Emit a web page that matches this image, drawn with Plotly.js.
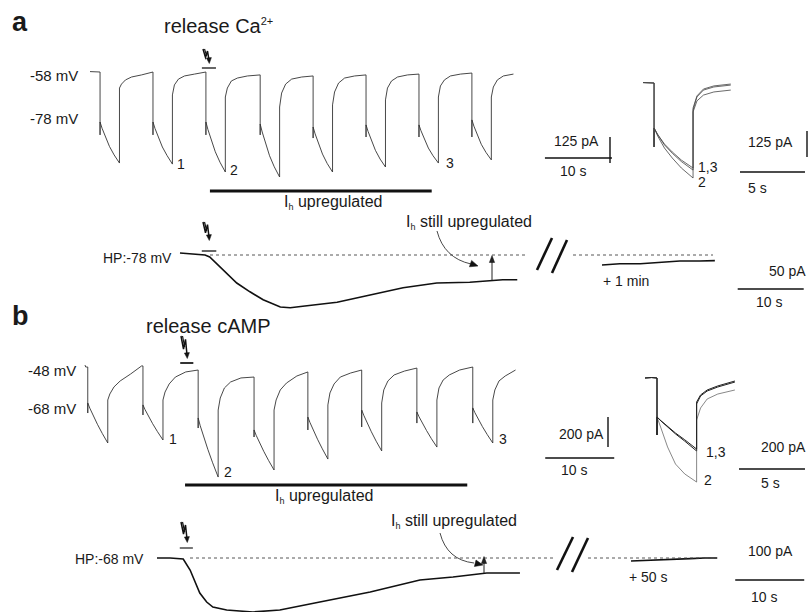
<!DOCTYPE html>
<html><head><meta charset="utf-8">
<script src="https://cdn.plot.ly/plotly-3.0.1.min.js"></script>
<style>html,body{margin:0;padding:0;background:#fff}#chart{width:809px;height:612px}</style>
</head><body><div id="chart"></div>
<script>
// ================= DATA (time in s, current in pA) =================
// Panel a, main sweep: steps -58 -> -78 mV
const aPreT = [0, 0.6, 1.5];
const aPreI = [2, 0, 0];
const aStepOn = [1.5, 9.4, 17.3, 25.4, 33.3, 41.2, 49.1, 57.0];
const aStepDur = 2.9;
const aEnd = 63.7;
const aSpike = [-302, -302, -302, -302, -317, -312, -312, -312];
const aDecayT = [0, 0.3, 0.8, 1.4, 2.1, 2.9];
const aDecay = [
  [-240, -270, -314, -357, -398, -437],
  [-240, -271, -316, -360, -401, -442],
  [-240, -276, -330, -383, -433, -480],
  [-250, -288, -345, -402, -455, -504],
  [-264, -297, -346, -394, -439, -480],
  [-254, -285, -331, -376, -418, -456],
  [-254, -282, -323, -365, -402, -437],
  [-230, -260, -304, -347, -386, -422]
];
const aRiseT = [0, 0.3, 0.9, 1.8, 3.3, 5.0];
const aRise = [
  [-77, -58, -38, -24, -14, 0],
  [-110, -62, -34, -19, -10, 0],
  [-120, -77, -43, -29, -19, -14],
  [-168, -101, -58, -34, -24, -19],
  [-158, -96, -53, -29, -19, -14],
  [-134, -77, -43, -24, -14, -10],
  [-120, -67, -38, -19, -10, -5],
  [-120, -72, -38, -19, -10]
];
// Panel a, inset: sweeps 1, 2, 3 superimposed
const aiPreT = [0, 0.4, 0.85];
const aiPreI = [2, 0, 0];
const aiStepOn = 0.85, aiStepDur = 3.0, aiSpike = -307;
const aiDecayT = [0, 0.3, 0.8, 1.4, 2.1, 3.0];
const aiDecay1 = [-216, -250, -297, -337, -377, -418];
const aiDecay2 = [-216, -257, -312, -360, -408, -456];
const aiDecay3 = [-216, -249, -293, -331, -370, -408];
const aiRiseT = [0, 0.3, 0.8, 1.6, 2.9];
const aiRise1 = [-130, -67, -34, -19, -10];
const aiRise2 = [-139, -86, -58, -43, -34];
const aiRise3 = [-120, -62, -29, -14, -5];
// Panel a, holding current at HP -78 mV
const abT = [0, 2.3, 3.8, 4.5, 6.5, 8.6, 10.6, 12.6, 15.2, 16.7, 18.6, 23.8, 28.8, 33.8, 38.9, 43.9, 48.9, 51.1];
const abI = [5, 2, 0, -5, -38, -70, -92, -112, -130, -132, -128, -118, -100, -82, -70, -68, -62, -62];
const ab2T = [0, 2.7, 5.8, 8.8, 11.8, 14.8, 17.1];   // + 1 min
const ab2I = [-25, -22, -22, -18, -15, -15, -14];

// Panel b, main sweep: steps -48 -> -68 mV
const bPreT = [0, 0.1, 0.4];
const bPreI = [13, 0, 0];
const bStepOn = [0.4, 8.4, 16.4, 24.5, 32.3, 40.1, 48.1, 56.2];
const bStepDur = 2.9;
const bEnd = 62.9;
const bSpike = [-307, -320, -407, -467, -420, -400, -374, -374];
const bDecayT = [0, 0.3, 0.8, 1.4, 2.1, 2.9];
const bDecay = [
  [-240, -275, -328, -382, -443, -507],
  [-253, -284, -331, -378, -431, -487],
  [-340, -392, -470, -549, -639, -734],
  [-420, -455, -508, -562, -623, -687],
  [-334, -370, -426, -482, -546, -614],
  [-287, -322, -377, -432, -495, -560],
  [-300, -331, -378, -424, -478, -534],
  [-273, -304, -351, -398, -451, -507]
];
const bRiseT = [0, 0.3, 0.9, 1.8, 3.3, 4.9];
const bRise = [
  [-220, -180, -133, -93, -47, 7],
  [-220, -167, -113, -67, -33, -20],
  [-287, -207, -140, -100, -73, -67],
  [-287, -220, -153, -107, -60, -33],
  [-253, -173, -113, -67, -40, -20],
  [-240, -153, -93, -53, -27, -7],
  [-220, -140, -87, -53, -20, 0],
  [-220, -153, -93, -60, -20]
];
// Panel b, inset
const biPreT = [0, 0.5, 0.91];
const biPreI = [0, 3, 0];
const biStepOn = 0.91, biStepDur = 3.0, biSpike = -380;
const biDecayT = [0, 0.3, 0.8, 1.4, 2.1, 3.0];
const biDecay1 = [-260, -287, -328, -373, -421, -487];
const biDecay2 = [-260, -334, -460, -574, -640, -694];
const biDecay3 = [-260, -285, -324, -367, -412, -474];
const biRiseT = [0, 0.3, 0.8, 1.6, 2.9];
const biRise1 = [-160, -113, -80, -53, -20];
const biRise2 = [-280, -200, -140, -107, -80];
const biRise3 = [-173, -120, -87, -60, -27];
// Panel b, holding current at HP -68 mV
const bbT = [0, 1.9, 3.8, 4.8, 6.2, 7.2, 8.1, 10.1, 13.9, 17.8, 23.6, 30.9, 38.1, 42.9, 47.8, 52.6];
const bbI = [0, 0, -5, -60, -175, -220, -245, -260, -270, -260, -220, -170, -110, -95, -75, -75];
const bb2T = [0, 2.8, 5.7, 8.6, 10.7, 12.5];   // + 50 s
const bb2I = [-15, -10, -5, -3, 0, 0];

// scale-bar values
const aBarPA = 125, aBarS = 10, aiBarS = 5, abBarS = 10;
const bBarPA = 200, bBarS = 10, biBarS = 5, bbBarS = 10;

// ================= BUILD =================
function buildSweep(preT, preI, onsets, dur, spikes, decT, dec, riseT, rise, tEnd) {
  const x = preT.slice(), y = preI.slice();
  onsets.forEach((on, i) => {
    x.push(on); y.push(y[y.length - 1]);
    x.push(on); y.push(spikes[i]);
    decT.forEach((dt, j) => { x.push(on + dt); y.push(dec[i][j]); });
    const off = on + dur;
    rise[i].forEach((v, j) => { const t = off + riseT[j]; if (t <= tEnd) { x.push(t); y.push(v); } });
  });
  return {x, y};
}
const sa = buildSweep(aPreT, aPreI, aStepOn, aStepDur, aSpike, aDecayT, aDecay, aRiseT, aRise, aEnd);
const sb = buildSweep(bPreT, bPreI, bStepOn, bStepDur, bSpike, bDecayT, bDecay, bRiseT, bRise, bEnd);
const ai = [[aiDecay1, aiRise1], [aiDecay2, aiRise2], [aiDecay3, aiRise3]].map(d =>
  buildSweep(aiPreT, aiPreI, [aiStepOn], aiStepDur, [aiSpike], aiDecayT, [d[0]], aiRiseT, [d[1]], 99));
const bi = [[biDecay1, biRise1], [biDecay2, biRise2], [biDecay3, biRise3]].map(d =>
  buildSweep(biPreT, biPreI, [biStepOn], biStepDur, [biSpike], biDecayT, [d[0]], biRiseT, [d[1]], 99));

const TR = '#333';
const traces = [];
function line(xs, ys, xa, ya, w, c) {
  traces.push({type: 'scatter', mode: 'lines', x: xs, y: ys, xaxis: xa, yaxis: ya,
    line: {color: c || TR, width: w || 1}, hoverinfo: 'skip', showlegend: false});
}
line(sa.x, sa.y, 'x2', 'y2', 0.9);
ai.forEach((s, i) => line(s.x, s.y, 'x3', 'y3', 0.8, '#444'));
line(abT, abI, 'x4', 'y4', 1.6, '#111');
line(ab2T, ab2I, 'x5', 'y4', 1.6, '#111');
line(sb.x, sb.y, 'x6', 'y5', 0.9);
bi.forEach((s, i) => line(s.x, s.y, 'x7', 'y6', i === 1 ? 0.7 : 1.0, i === 1 ? '#555' : '#222'));
line(bbT, bbI, 'x8', 'y7', 1.6, '#111');
line(bb2T, bb2I, 'x9', 'y7', 1.6, '#111');

// ================= LAYOUT =================
const W = 809, H = 612;
const xr = (px0, pxPerUnit) => [-px0 / pxPerUnit, (W - px0) / pxPerUnit];
const yr = (py0, unitPerPx) => [(py0 - H) * unitPerPx, py0 * unitPerPx];
const hid = r => ({range: r, autorange: false, visible: false, fixedrange: true, showgrid: false, zeroline: false});
const layout = {
  width: W, height: H, margin: {l: 0, r: 0, t: 0, b: 0},
  paper_bgcolor: '#fff', plot_bgcolor: 'rgba(0,0,0,0)', showlegend: false,
  font: {family: 'Liberation Sans, Arial, sans-serif', color: '#1a1a1a', size: 14},
  xaxis: hid([0, W]), yaxis: hid([H, 0])
};
const xs = {x2: xr(90, 6.7), x3: xr(643, 13), x4: xr(180, 6.6), x5: xr(602, 6.6),
  x6: xr(85, 6.9), x7: xr(645, 13.2), x8: xr(157, 6.9), x9: xr(631, 6.9)};
const ys = {y2: yr(72, 4.8), y3: yr(83, 4.8), y4: yr(255, 2.5), y5: yr(367, 6.67),
  y6: yr(378, 6.67), y7: yr(558, 5)};
Object.entries(xs).forEach(([k, r]) => { layout['xaxis' + k.slice(1)] = Object.assign(hid(r), {overlaying: 'x'}); });
Object.entries(ys).forEach(([k, r]) => { layout['yaxis' + k.slice(1)] = Object.assign(hid(r), {overlaying: 'y'}); });

const shapes = [];
const L = (o, w, c, dash) => shapes.push(Object.assign({type: 'line', line: {color: c || '#111', width: w || 1.4, dash: dash || 'solid'}}, o));
const P = (path, w, fill, c) => shapes.push(Object.assign({type: 'path', xref: 'x', yref: 'y', path,
  line: {color: c || '#111', width: w}}, fill ? {fillcolor: fill} : {}));
// scale bars
L({xref: 'x', yref: 'y2', x0: 610, x1: 610, y0: -437, y1: -437 + aBarPA});
L({xref: 'x2', yref: 'y', x0: 67.9, x1: 67.9 + aBarS, y0: 158, y1: 158});
L({xref: 'x', yref: 'y3', x0: 807, x1: 807, y0: -355, y1: -355 + aBarPA});
L({xref: 'x3', yref: 'y', x0: 7.46, x1: 7.46 + aiBarS, y0: 172, y1: 172});
L({xref: 'x4', yref: 'y', x0: 84.5, x1: 84.5 + abBarS, y0: 289, y1: 289});
L({xref: 'x', yref: 'y5', x0: 608, x1: 608, y0: -534, y1: -534 + bBarPA});
L({xref: 'x6', yref: 'y', x0: 66.7, x1: 66.7 + bBarS, y0: 458, y1: 458});
L({xref: 'x7', yref: 'y', x0: 7.12, x1: 7.12 + biBarS, y0: 469, y1: 469});
L({xref: 'x8', yref: 'y', x0: 83.8, x1: 83.8 + bbBarS, y0: 580, y1: 580});
// Ih upregulated bars
L({xref: 'x2', yref: 'y', x0: 17.9, x1: 51.0, y0: 191, y1: 191}, 3);
L({xref: 'x6', yref: 'y', x0: 14.5, x1: 55.4, y0: 485, y1: 485}, 3);
// flash markers
L({xref: 'x2', yref: 'y', x0: 16.7, x1: 18.8, y0: 68, y1: 68}, 2, '#666');
L({xref: 'x4', yref: 'y', x0: 3.3, x1: 5.5, y0: 251, y1: 251}, 1.5, '#333');
L({xref: 'x6', yref: 'y', x0: 13.8, x1: 15.7, y0: 363, y1: 363}, 2, '#333');
L({xref: 'x8', yref: 'y', x0: 3.3, x1: 5.2, y0: 548, y1: 548}, 2, '#777');
// dotted baselines
L({xref: 'x', yref: 'y4', x0: 210, x1: 525, y0: 0, y1: 0}, 0.9, '#444', 'dot');
L({xref: 'x', yref: 'y4', x0: 573, x1: 713, y0: 0, y1: 0}, 0.9, '#444', 'dot');
L({xref: 'x', yref: 'y7', x0: 190, x1: 555, y0: 0, y1: 0}, 0.9, '#444', 'dot');
L({xref: 'x', yref: 'y7', x0: 588, x1: 717, y0: 0, y1: 0}, 0.9, '#444', 'dot');
// break marks //
L({xref: 'x', yref: 'y', x0: 537, y0: 270, x1: 552, y1: 238}, 2.6);
L({xref: 'x', yref: 'y', x0: 552, y0: 273, x1: 567, y1: 240}, 2.6);
L({xref: 'x', yref: 'y', x0: 557, y0: 570, x1: 573, y1: 537}, 2.6);
L({xref: 'x', yref: 'y', x0: 572, y0: 572, x1: 588, y1: 538}, 2.6);
// lightning symbols
function bolt(cx, top, h) {
  P(`M ${cx - 4} ${top} L ${cx - 1.5} ${top + 0.6 * h} L ${cx + 0.5} ${top + 0.15 * h} L ${cx + 2} ${top + h - 3}`, 1.5);
  P(`M ${cx - 2.5} ${top} L ${cx - 0.3} ${top + 0.5 * h}`, 1.2);
  P(`M ${cx + 2.3} ${top + h + 0.5} L ${cx - 0.6} ${top + h - 5} L ${cx + 4.4} ${top + h - 5.4} Z`, 0.5, '#111');
}
bolt(207, 49, 14); bolt(207, 222, 18); bolt(185, 336, 22); bolt(185, 522, 20);
// curved arrows
P('M 437 231 Q 444 258 471 264', 0.9, null, '#333');
P('M 478 266 L 469.4 266.8 L 471.6 260.4 Z', 0.5, '#111');
P('M 440 533 Q 447 560 474 563', 0.9, null, '#333');
P('M 483 565 L 474.4 566.5 L 476 560 Z', 0.5, '#111');
// small vertical arrows (still upregulated amplitude)
L({xref: 'x', yref: 'y', x0: 492, x1: 492, y0: 280, y1: 261}, 1, '#222');
P('M 492 255.5 L 489.4 262.5 L 494.6 262.5 Z', 0.5, '#222');
L({xref: 'x', yref: 'y', x0: 484, x1: 484, y0: 573, y1: 562}, 1, '#222');
P('M 484 556.5 L 481.4 563.5 L 486.6 563.5 Z', 0.5, '#222');
layout.shapes = shapes;

const ann = [];
const T = (text, x, y, size, anchor) => ann.push({text, x, y, xref: 'x', yref: 'y',
  xanchor: anchor || 'left', yanchor: 'middle', showarrow: false, font: {size: size || 14}});
const Ih = 'I<sub><span style="font-size:9px">h</span></sub>';
T('<b>a</b>', 10, 22, 27);
T('<b>b</b>', 10, 316, 27);
T('release Ca<sup><span style="font-size:11px">2+</span></sup>', 162, 26, 20);
T('release cAMP', 144, 326, 20);
T('-58 mV', 80, 75, 15, 'right');
T('-78 mV', 80, 118, 15, 'right');
T('-48 mV', 78, 370, 15, 'right');
T('-68 mV', 78, 408, 15, 'right');
T('HP:-78 mV', 174, 258, 14, 'right');
T('HP:-68 mV', 146, 559, 14, 'right');
T(Ih + ' upregulated', 333, 202, 16, 'center');
T(Ih + ' upregulated', 324, 496, 16, 'center');
T(Ih + ' still upregulated', 404, 222, 16);
T(Ih + ' still upregulated', 389, 521, 16);
T('+ 1 min', 601, 281, 14);
T('+ 50 s', 627, 577, 14);
T('125 pA', 552, 141, 14);
T('10 s', 558, 171, 14);
T('125 pA', 746, 142, 14);
T('5 s', 746, 188, 14);
T('50 pA', 767, 271, 14);
T('10 s', 754, 302, 14);
T('200 pA', 557, 434, 14);
T('10 s', 559, 470, 14);
T('200 pA', 759, 447, 14);
T('5 s', 759, 483, 14);
T('100 pA', 746, 551, 14);
T('10 s', 749, 597, 14);
T('1', 175, 164, 14); T('2', 228, 170, 14); T('3', 444, 163, 14);
T('1,3', 696, 167, 14); T('2', 696, 182, 14);
T('1', 167, 439, 14); T('2', 222, 472, 14); T('3', 497, 439, 14);
T('1,3', 704, 452, 14); T('2', 702, 480, 14);
layout.annotations = ann;

Plotly.newPlot('chart', traces, layout, {staticPlot: true, displayModeBar: false});
</script></body></html>
